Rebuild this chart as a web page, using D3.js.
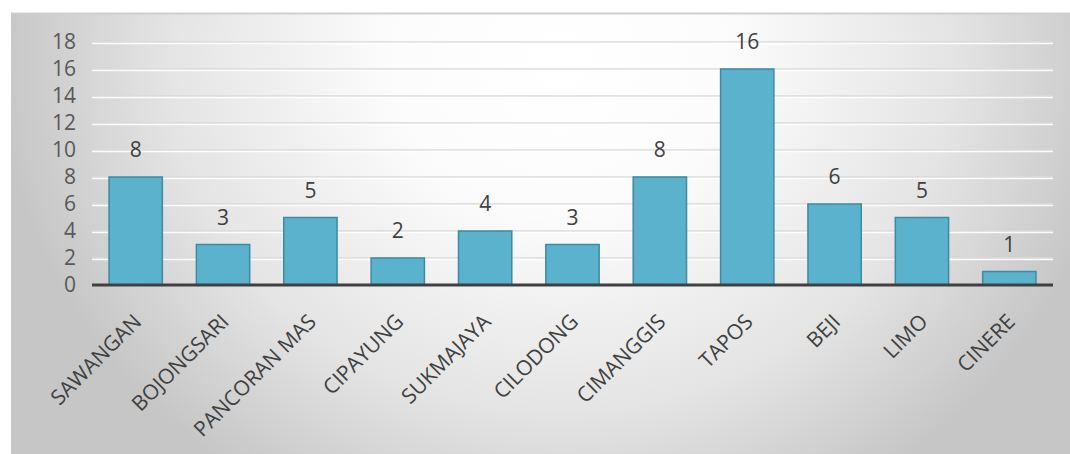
<!DOCTYPE html>
<html>
<head>
<meta charset="utf-8">
<script src="https://cdn.jsdelivr.net/npm/d3@7"></script>
<style>
  html, body { margin: 0; padding: 0; background: #ffffff; }
  svg { display: block; }
  text { font-family: "Open Sans", "Noto Sans", sans-serif; }
</style>
</head>
<body>
<svg id="chart" width="1070" height="454"></svg>
<script>
const categories = ["SAWANGAN", "BOJONGSARI", "PANCORAN MAS", "CIPAYUNG", "SUKMAJAYA", "CILODONG", "CIMANGGIS", "TAPOS", "BEJI", "LIMO", "CINERE"];
const values = [8, 3, 5, 2, 4, 3, 8, 16, 6, 5, 1];
const yTicks = [0, 2, 4, 6, 8, 10, 12, 14, 16, 18];

const W = 1070, H = 454;
const margin = { left: 92, right: 17, top: 42, bottom: 169 };
const svg = d3.select("#chart");

const defs = svg.append("defs");
const rg = defs.append("radialGradient")
  .attr("id", "bg").attr("gradientUnits", "userSpaceOnUse")
  .attr("cx", 560).attr("cy", 60).attr("r", 560)
  .attr("gradientTransform", "translate(560,60) scale(1,0.9) translate(-560,-60)");
rg.append("stop").attr("offset", "0%").attr("stop-color", "#ffffff");
rg.append("stop").attr("offset", "30%").attr("stop-color", "#fcfcfc");
rg.append("stop").attr("offset", "70%").attr("stop-color", "#e4e4e4");
rg.append("stop").attr("offset", "100%").attr("stop-color", "#c6c6c6");

svg.append("rect").attr("x", 11).attr("y", 13).attr("width", W - 11).attr("height", H - 13)
  .attr("fill", "url(#bg)");
svg.append("line").attr("x1", 11).attr("x2", W).attr("y1", 13.5).attr("y2", 13.5)
  .attr("stroke", "#cfcfcf").attr("stroke-width", 2);

const x = d3.scaleBand().domain(categories)
  .range([margin.left, W - margin.right]).paddingInner(0.39).paddingOuter(0.195);
const y = d3.scaleLinear().domain([0, 18]).range([H - margin.bottom, margin.top]);

// gridlines
const grid = svg.append("g");
yTicks.filter(t => t > 0).forEach(t => {
  grid.append("line").attr("x1", margin.left).attr("x2", W - margin.right)
    .attr("y1", y(t)).attr("y2", y(t)).attr("stroke", "#dadada").attr("stroke-width", 1.5);
  grid.append("line").attr("x1", margin.left).attr("x2", W - margin.right)
    .attr("y1", y(t) + 1.5).attr("y2", y(t) + 1.5).attr("stroke", "#ffffff").attr("stroke-opacity", 0.9).attr("stroke-width", 1.5);
});

// y axis labels
const yAxis = d3.axisLeft(y).tickValues(yTicks).tickSize(0).tickPadding(0);
const ya = svg.append("g").attr("transform", `translate(${margin.left - 16},0)`).call(yAxis);
ya.select(".domain").remove();
ya.selectAll("text").attr("font-size", 21).attr("fill", "#595959")
  .attr("font-family", "'Open Sans', sans-serif");

// bars
svg.append("g").selectAll("rect").data(values).join("rect")
  .attr("x", (d, i) => x(categories[i]))
  .attr("y", d => y(d))
  .attr("width", x.bandwidth())
  .attr("height", d => y(0) - y(d))
  .attr("fill", "#5bb2cc")
  .attr("stroke", "#3d8aa3")
  .attr("stroke-width", 1.5);

// data labels
svg.append("g").selectAll("text").data(values).join("text")
  .attr("x", (d, i) => x(categories[i]) + x.bandwidth() / 2)
  .attr("y", d => y(d) - 20)
  .attr("text-anchor", "middle")
  .attr("font-size", 21).attr("fill", "#404040")
  .text(d => d);

// x axis
const xAxis = d3.axisBottom(x).tickSize(0).tickPadding(0);
const xa = svg.append("g").attr("transform", `translate(0,${y(0)})`).call(xAxis);
xa.select(".domain").remove();
xa.selectAll("text")
  .attr("font-size", 21).attr("fill", "#404040")
  .attr("font-family", "'Open Sans', sans-serif")
  .attr("text-anchor", "end")
  .attr("dy", 0)
  .attr("y", 0)
  .attr("transform", "translate(7,38) rotate(-45)");

svg.append("line").attr("x1", margin.left).attr("x2", W - margin.right)
  .attr("y1", y(0)).attr("y2", y(0)).attr("stroke", "#404040").attr("stroke-width", 3);
</script>
</body>
</html>
